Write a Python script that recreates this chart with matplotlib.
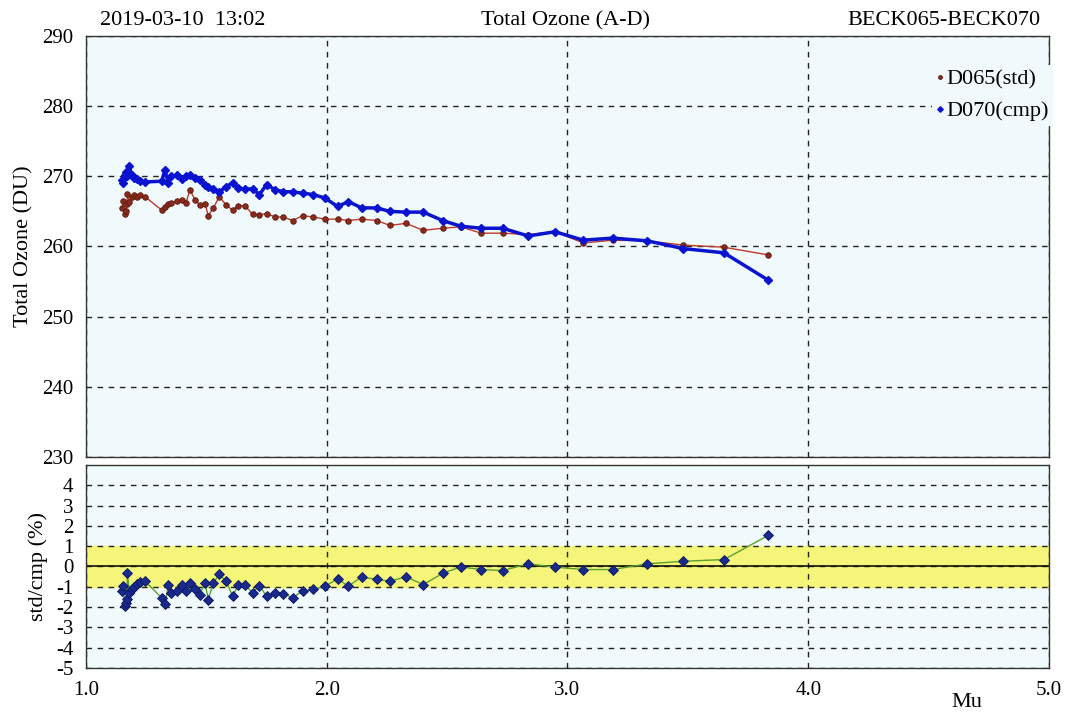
#!/usr/bin/env python3
"""Total ozone comparison BECK065 vs BECK070 (A-D), top: ozone vs Mu, bottom: std/cmp ratio."""

import matplotlib
matplotlib.use("Agg")
import matplotlib.pyplot as plt

# Mu values shared by both instruments and the ratio panel
mu = [1.150, 1.155, 1.160, 1.165, 1.170, 1.172, 1.180, 1.190, 1.200, 1.210, 1.225, 1.245,
      1.314, 1.328, 1.342, 1.355, 1.377, 1.397, 1.415, 1.432, 1.453, 1.474, 1.494, 1.508,
      1.529, 1.554, 1.582, 1.609, 1.633, 1.660, 1.692, 1.720, 1.750, 1.785, 1.820, 1.858,
      1.900, 1.944, 1.993, 2.045, 2.090, 2.145, 2.207, 2.263, 2.329, 2.401, 2.481, 2.556,
      2.642, 2.731, 2.837, 2.948, 3.066, 3.188, 3.332, 3.481, 3.650, 3.834]

# D065 (std) total ozone, DU
ozone_std = [265.5, 266.5, 264.6, 265.0, 266.0, 267.5, 266.4, 267.0, 267.4, 267.0, 267.3, 267.1,
             265.2, 265.6, 266.0, 266.2, 266.5, 266.6, 266.2, 268.1, 266.6, 265.9, 266.1, 264.4,
             265.5, 267.1, 265.9, 265.2, 265.8, 265.8, 264.6, 264.5, 264.7, 264.2, 264.2, 263.7,
             264.4, 264.2, 263.9, 263.9, 263.7, 263.9, 263.7, 263.0, 263.3, 262.3, 262.6, 262.8,
             261.9, 261.9, 261.7, 262.1, 260.5, 260.9, 260.8, 260.2, 259.9, 258.8]

# D070 (cmp) total ozone, DU
ozone_cmp = [269.5, 269.0, 270.2, 270.6, 270.0, 270.5, 271.4, 270.2, 269.8, 269.6, 269.3, 269.2,
             269.3, 270.9, 269.0, 270.0, 270.2, 269.6, 270.0, 270.2, 269.7, 269.5, 268.8, 268.5,
             268.2, 267.8, 268.5, 269.1, 268.3, 268.2, 268.2, 267.4, 268.8, 268.1, 267.8, 267.8,
             267.6, 267.4, 266.9, 265.7, 266.4, 265.5, 265.5, 265.0, 264.9, 264.9, 263.7, 262.9,
             262.6, 262.6, 261.5, 262.1, 260.9, 261.2, 260.8, 259.7, 259.1, 255.2]

# std/cmp difference, %
ratio = [-1.20, -0.97, -1.95, -1.80, -1.60, -0.31, -1.30, -1.10, -1.00, -0.85, -0.75, -0.72,
         -1.54, -1.87, -0.89, -1.30, -1.21, -0.89, -1.21, -0.80, -1.13, -1.38, -0.80, -1.63,
         -0.80, -0.39, -0.72, -1.46, -0.89, -0.89, -1.30, -0.94, -1.46, -1.30, -1.33, -1.54,
         -1.21, -1.13, -0.97, -0.61, -0.97, -0.51, -0.64, -0.72, -0.51, -0.89, -0.34, -0.02,
         -0.15, -0.20, 0.13, -0.03, -0.15, -0.15, 0.13, 0.26, 0.34, 1.53]

x_ticks = [1.0, 2.0, 3.0, 4.0, 5.0]
x_tick_labels = ["1.0", "2.0", "3.0", "4.0", "5.0"]
top_y_ticks = [230, 240, 250, 260, 270, 280, 290]
bottom_y_ticks = [-5, -4, -3, -2, -1, 0, 1, 2, 3, 4]

plt.rcParams['font.family'] = ['Liberation Serif', 'DejaVu Serif']
plt.rcParams['axes.unicode_minus'] = False

BG = '#F0FAFC'
FS = 15

fig = plt.figure(figsize=(10.67, 7.15), dpi=100)
ax1 = fig.add_axes([0.0806, 0.3608, 0.9025, 0.5889])
ax2 = fig.add_axes([0.0806, 0.0657, 0.9025, 0.2840])

for ax in (ax1, ax2):
    ax.set_facecolor(BG)
    ax.set_xlim(1.0, 5.0)
    ax.set_xticks(x_ticks)
    ax.tick_params(length=0, pad=9, labelsize=FS)
    for s in ax.spines.values():
        s.set_color('#333333')
        s.set_linewidth(1.0)
    ax.grid(True, color='#222222', linestyle=(0, (4, 4)), linewidth=1.0)
    ax.set_axisbelow(True)

# top panel
ax1.set_ylim(230, 290)
ax1.set_yticks(top_y_ticks)
ax1.set_xticklabels([])
ax1.plot(mu, ozone_std, color='#C0392B', linewidth=1.0, marker='o', markersize=4,
         markerfacecolor='#8B2A1A', markeredgecolor='#5A1A10', markeredgewidth=0.6,
         label='D065(std)', zorder=3)
ax1.plot(mu, ozone_cmp, color='#0A14D0', linewidth=2.5, marker='D', markersize=4,
         markerfacecolor='#0A14D0', markeredgecolor='#0A14D0',
         label='D070(cmp)', zorder=4)
ax1.set_ylabel('Total Ozone (DU)', fontsize=FS + 1, labelpad=6)

leg = ax1.legend(loc='upper right', bbox_to_anchor=(1.016, 0.958), frameon=True,
                 facecolor=BG, edgecolor='none', framealpha=1.0, fancybox=False,
                 handlelength=0.3, handletextpad=0.15, fontsize=FS + 1, labelspacing=0.5,
                 markerscale=0.7, borderpad=0.2)
for h in leg.legend_handles:
    h.set_linestyle('None')

fig.text(0.094, 0.958, '2019-03-10  13:02', fontsize=FS + 1, ha='left', va='bottom')
fig.text(0.530, 0.958, 'Total Ozone (A-D)', fontsize=FS + 1, ha='center', va='bottom')
fig.text(0.975, 0.958, 'BECK065-BECK070', fontsize=FS + 1, ha='right', va='bottom')

# bottom panel
ax2.set_ylim(-5, 5)
ax2.set_yticks(bottom_y_ticks)
ax2.set_xticklabels(x_tick_labels)
ax2.axhspan(-1, 1, color='#F5F57A', zorder=0.5)
ax2.axhline(0, color='#111111', linewidth=1.2, zorder=1)
ax2.plot(mu, ratio, color='#5AA02C', linewidth=1.0, marker='D', markersize=5.5,
         markerfacecolor='#1A2A8C', markeredgecolor='#0A1460', markeredgewidth=0.6, zorder=3)
ax2.set_ylabel('std/cmp (%)', fontsize=FS + 1, labelpad=6)
fig.text(0.906, 0.004, 'Mu', fontsize=FS + 1, ha='center', va='bottom')

fig.savefig('out.png', dpi=100, facecolor='white')
